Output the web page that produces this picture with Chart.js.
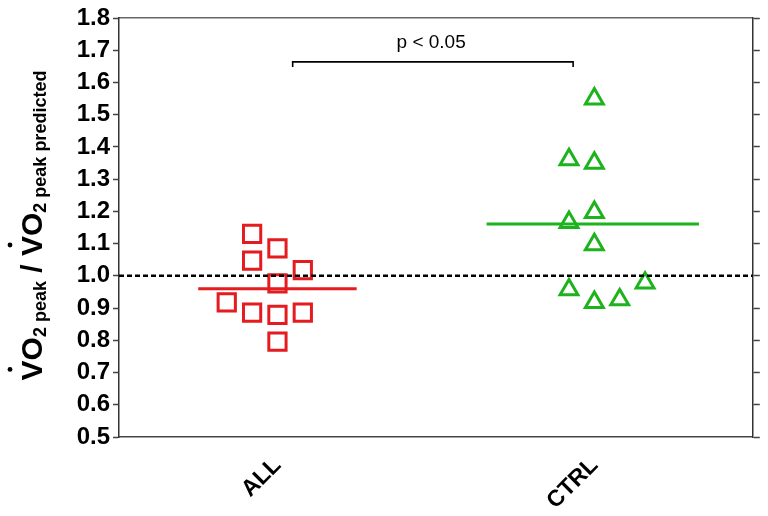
<!DOCTYPE html>
<html>
<head>
<meta charset="utf-8">
<script src="https://cdn.jsdelivr.net/npm/chart.js@4.4.1/dist/chart.umd.min.js"></script>
<style>
html,body{margin:0;padding:0;background:#fff;overflow:hidden;width:768px;height:516px;}
canvas{display:block;}
</style>
</head>
<body>
<canvas id="c" width="768" height="516"></canvas>
<script>
// ---- data ----
const categories = ['ALL', 'CTRL'];
const yTickValues = [0.5,0.6,0.7,0.8,0.9,1.0,1.1,1.2,1.3,1.4,1.5,1.6,1.7,1.8];

const allX = [0.92, 1.00, 0.92, 1.08, 1.00, 0.84, 0.92, 1.00, 1.08, 1.00];
const allY = [1.130, 1.085, 1.047, 1.018, 0.977, 0.918, 0.886, 0.879, 0.886, 0.796];

const ctrlX = [2.00, 1.92, 2.00, 2.00, 1.92, 2.00, 1.92, 2.00, 2.08, 2.16];
const ctrlY = [1.549, 1.361, 1.350, 1.197, 1.166, 1.097, 0.957, 0.918, 0.926, 0.978];

const allMean = 0.960;
const ctrlMean = 1.161;
const allMeanX = [0.75, 1.25];
const ctrlMeanX = [1.66, 2.33];

const refValue = 1.0;
const refX = [0.5, 2.5];

const bracketX = [1.048, 1.048, 1.933, 1.933];
const bracketY = [1.648, 1.664, 1.664, 1.648];
const pLabel = 'p < 0.05';
const pLabelX = 1.485;
const pLabelY = 1.706;

const FONT = '"Liberation Sans", Arial, Helvetica, sans-serif';
const RED = '#e41b1f';
const GREEN = '#1db31d';
const AXIS = '#444';

const zip = (xs, ys) => xs.map((x, i) => ({x: x, y: ys[i]}));

const titlePlugin = {
  id: 'extras',
  afterDraw(chart) {
    const ctx = chart.ctx;
    const xs = chart.scales.x, ys = chart.scales.y;
    const ca = chart.chartArea;

    // p-value label
    ctx.save();
    ctx.fillStyle = '#000';
    ctx.font = '19px ' + FONT;
    ctx.textAlign = 'center';
    ctx.textBaseline = 'alphabetic';
    ctx.fillText(pLabel, xs.getPixelForValue(pLabelX), ys.getPixelForValue(pLabelY));
    ctx.restore();

    // y axis title with subscripts and dots
    const big = 'bold 30px ' + FONT;
    const small = 'bold 18px ' + FONT;
    const runs = [
      {t: 'V', f: big, dy: 0, dot: true},
      {t: 'O', f: big, dy: 0},
      {t: '2 peak', f: small, dy: 3.5},
      {t: ' / ', f: big, dy: 0},
      {t: 'V', f: big, dy: 0, dot: true},
      {t: 'O', f: big, dy: 0},
      {t: '2 peak predicted', f: small, dy: 3.5}
    ];
    ctx.save();
    let total = 0;
    runs.forEach(r => { ctx.font = r.f; r.w = ctx.measureText(r.t).width; total += r.w; });
    const cy = (ca.top + ca.bottom) / 2 - 2;
    ctx.translate(42, cy);
    ctx.rotate(-Math.PI / 2);
    ctx.fillStyle = '#000';
    ctx.textAlign = 'left';
    ctx.textBaseline = 'alphabetic';
    let px = -total / 2;
    runs.forEach(r => {
      ctx.font = r.f;
      ctx.fillText(r.t, px, r.dy);
      if (r.dot) {
        ctx.beginPath();
        ctx.arc(px + r.w / 2 + 1, -32, 2.4, 0, Math.PI * 2);
        ctx.fill();
      }
      px += r.w;
    });
    ctx.restore();
  }
};

new Chart(document.getElementById('c'), {
  type: 'scatter',
  data: {
    datasets: [
      {
        type: 'line', label: 'ref', order: 0,
        data: zip(refX, [refValue, refValue]),
        borderColor: '#000', borderWidth: 2.5, borderDash: [5, 3],
        pointRadius: 0, fill: false
      },
      {
        type: 'line', label: 'bracket', order: 0,
        data: zip(bracketX, bracketY),
        borderColor: '#000', borderWidth: 1.6, borderJoinStyle: 'miter',
        pointRadius: 0, fill: false, tension: 0
      },
      {
        label: 'ALL', order: 1,
        data: zip(allX, allY),
        pointStyle: 'rect', pointRadius: 12.2, pointBorderWidth: 3,
        borderColor: RED, backgroundColor: 'rgba(0,0,0,0)',
        pointBackgroundColor: 'rgba(0,0,0,0)', pointBorderColor: RED
      },
      {
        label: 'CTRL', order: 1,
        data: zip(ctrlX, ctrlY),
        pointStyle: 'triangle', pointRadius: 10.3, pointBorderWidth: 3,
        borderColor: GREEN, backgroundColor: 'rgba(0,0,0,0)',
        pointBackgroundColor: 'rgba(0,0,0,0)', pointBorderColor: GREEN
      },
      {
        type: 'line', label: 'ALL mean', order: 2,
        data: zip(allMeanX, [allMean, allMean]),
        borderColor: RED, borderWidth: 3, pointRadius: 0, fill: false
      },
      {
        type: 'line', label: 'CTRL mean', order: 2,
        data: zip(ctrlMeanX, [ctrlMean, ctrlMean]),
        borderColor: GREEN, borderWidth: 3, pointRadius: 0, fill: false
      }
    ]
  },
  options: {
    responsive: false,
    animation: false,
    devicePixelRatio: 1,
    layout: {padding: {top: 18, left: 0, right: 0, bottom: 0}},
    plugins: {legend: {display: false}, tooltip: {enabled: false}},
    scales: {
      x: {
        type: 'linear', position: 'bottom', min: 0.5, max: 2.5,
        afterBuildTicks: (axis) => { axis.ticks = categories.map((c, i) => ({value: i + 1})); },
        afterFit: (s) => { s.height = 79; },
        grid: {display: false, drawTicks: false, tickLength: 0},
        border: {display: true, color: AXIS, width: 1.5},
        ticks: {
          autoSkip: false, minRotation: 45, maxRotation: 45, padding: 15,
          color: '#000', font: {family: FONT, size: 23, weight: 'bold'},
          callback: (v) => categories[Math.round(v) - 1] || ''
        }
      },
      x2: {
        type: 'linear', position: 'top', min: 0.5, max: 2.5,
        afterFit: (s) => { s.height = 0; },
        grid: {display: false, drawTicks: false},
        border: {display: true, color: '#666', width: 1.5},
        ticks: {display: false}
      },
      y: {
        type: 'linear', position: 'left', min: 0.5, max: 1.8,
        afterBuildTicks: (axis) => { axis.ticks = yTickValues.map(v => ({value: v})); },
        afterFit: (s) => { s.width = 119; },
        grid: {drawOnChartArea: false, drawTicks: true, tickLength: 6, color: AXIS, tickWidth: 1.5},
        border: {display: true, color: '#333', width: 1.5},
        ticks: {
          padding: 3, color: '#000',
          font: {family: FONT, size: 24, weight: 'bold'},
          callback: (v) => Number(v).toFixed(1)
        }
      },
      yRight: {
        type: 'linear', position: 'right', min: 0.5, max: 1.8,
        afterBuildTicks: (axis) => { axis.ticks = yTickValues.map(v => ({value: v})); },
        afterFit: (s) => { s.width = 15; },
        grid: {display: true, drawOnChartArea: false, drawTicks: true, tickLength: 7, color: AXIS, tickWidth: 1.5},
        border: {display: true, color: '#333', width: 1.5},
        ticks: {display: false}
      }
    }
  },
  plugins: [titlePlugin]
});
</script>
</body>
</html>
